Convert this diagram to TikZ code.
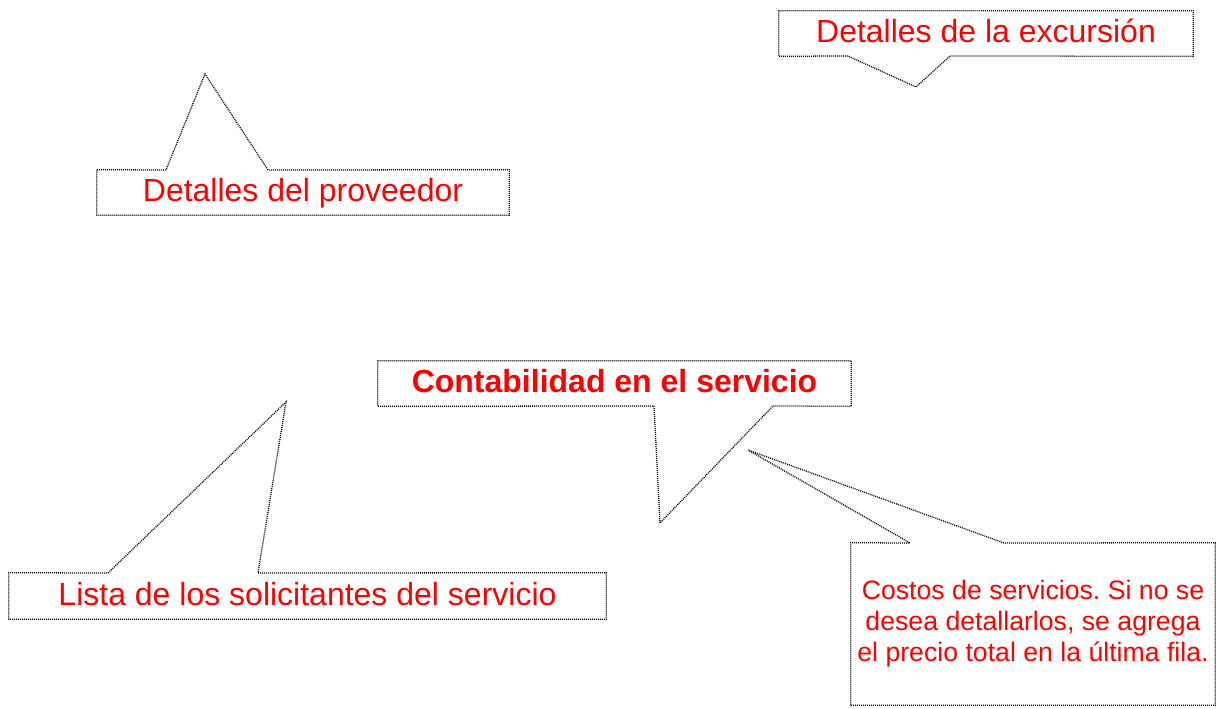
\documentclass[tikz,border=0pt]{standalone}
\usepackage{fontspec}
\setmainfont{Liberation Sans}
\frenchspacing
\begin{document}
\begin{tikzpicture}[x=0.75pt,y=-0.75pt]
        \tikzstyle{every node}=[text=red,inner sep=0pt,font=\fontsize{24}{27.6}\selectfont]
        \tikzstyle{callout box}=[rectangle,text height=23.6pt,text depth=10.1pt]
        \tikzstyle{callout line}=[draw=black,line width=0.95pt,dash pattern=on 0.75pt off 0.75pt]
        \useasboundingbox (0,0) rectangle (1223,709);
        \node[callout box,minimum width=310.5pt,minimum height=33.75pt] (excursion) at (986,33.5) {Detalles de la excursi\'on};
        \node[callout box,minimum width=309pt,minimum height=33.75pt] (proveedor) at (303,192.5) {Detalles del proveedor};
        \node[callout box,minimum width=354.75pt,minimum height=33.75pt,font=\fontsize{24}{27.6}\selectfont\bfseries] (contabilidad) at (614.5,383.5) {Contabilidad en el servicio};
        \node[callout box,minimum width=447.75pt,minimum height=34.5pt] (solicitantes) at (307.5,596) {Lista de los solicitantes del servicio};
        \node[minimum width=273pt,minimum height=121.5pt,align=center,font=\fontsize{20}{23.25}\selectfont] (costos) at (1033,624) {Costos de servicios. Si no se\\desea detallarlos, se agrega\\el precio total en la \'ultima fila.};
        \coordinate (excursion tip) at (916,87);
        \coordinate (proveedor tip) at (205,74);
        \coordinate (contabilidad tip) at (660,523);
        \coordinate (solicitantes tip) at (286,402);
        \coordinate (costos tip) at (748,450);
        \draw[callout line] (excursion.north west) -- (excursion.north east) -- (excursion.south east) -- (950,56) -- (excursion tip) -- (848,56) -- (excursion.south west) -- cycle;
        \draw[callout line] (proveedor.south west) -- (proveedor.north west) -- (166,170) -- (proveedor tip) -- (268,170) -- (proveedor.north east) -- (proveedor.south east) -- cycle;
        \draw[callout line] (contabilidad.north west) -- (contabilidad.north east) -- (contabilidad.south east) -- (773,406) -- (contabilidad tip) -- (654,406) -- (contabilidad.south west) -- cycle;
        \draw[callout line] (solicitantes.south west) -- (solicitantes.north west) -- (108,573) -- (solicitantes tip) -- (258,573) -- (solicitantes.north east) -- (solicitantes.south east) -- cycle;
        \draw[callout line] (costos.south west) -- (costos.north west) -- (910,543) -- (costos tip) -- (1004,543) -- (costos.north east) -- (costos.south east) -- cycle;
\end{tikzpicture}
\end{document}
